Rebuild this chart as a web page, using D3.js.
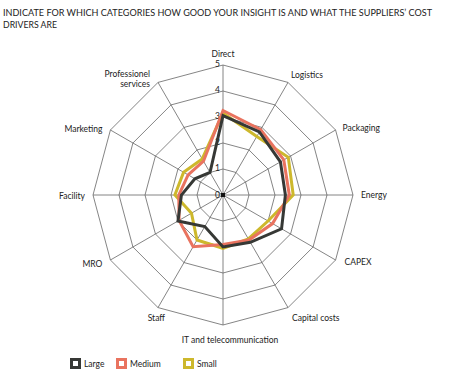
<!DOCTYPE html>
<html lang="en">
<head>
<meta charset="UTF-8">
<title>Cost drivers radar</title>
<style>
  body { margin: 0; background: #fff; }
  #my_dataviz text { font-family: Lato, "Open Sans", sans-serif; fill: #222; }
</style>
</head>
<body>
<div id="my_dataviz"></div>
<script src="https://d3js.org/d3.v7.min.js"></script>
<script>
// data (scale 0-5)
var categories = ["Direct", "Logistics", "Packaging", "Energy", "CAPEX", "Capital costs",
                  "IT and telecommunication", "Staff", "MRO", "Facility", "Marketing", "Professionel services"];
var large  = [3.05, 2.8, 2.55, 2.4, 2.6, 2.1, 2.0, 1.4, 2.0, 1.6, 1.25, 1.0];
var medium = [3.25, 2.9, 2.7, 2.55, 2.2, 2.0, 1.9, 2.3, 1.95, 1.7, 1.55, 1.5];
var small  = [3.15, 2.6, 2.9, 2.7, 2.0, 1.95, 2.05, 2.0, 1.4, 1.85, 1.75, 1.6];
var ticks = [0, 1, 2, 3, 4, 5];
var seriesNames = ["Large", "Medium", "Small"];
var seriesColors = ["#363835", "#e9735f", "#cdb82c"];

// dimensions
var width = 450, height = 383,
    cx = 223, cy = 195, radius = 130;

var svg = d3.select("#my_dataviz")
  .append("svg")
    .attr("width", width)
    .attr("height", height);

// title (fitted to the width of the original's narrow font)
svg.append("text")
  .attr("x", 3).attr("y", 16)
  .attr("textLength", 429)
  .attr("lengthAdjust", "spacingAndGlyphs")
  .style("font-size", "9.2px")
  .text("INDICATE FOR WHICH CATEGORIES HOW GOOD YOUR INSIGHT IS AND WHAT THE SUPPLIERS\u2019 COST");
svg.append("text")
  .attr("x", 3).attr("y", 28)
  .attr("textLength", 54)
  .attr("lengthAdjust", "spacingAndGlyphs")
  .style("font-size", "9.2px")
  .text("DRIVERS ARE");

var r = d3.scaleLinear().domain([0, 5]).range([0, radius]);
var angle = d3.scaleLinear().domain([0, categories.length]).range([0, 2 * Math.PI]);

var g = svg.append("g")
  .attr("transform", "translate(" + cx + "," + cy + ")");

// rings
ticks.slice(1).forEach(function(t) {
  g.append("path")
    .datum(categories)
    .attr("fill", "none")
    .attr("stroke", "#666")
    .attr("stroke-width", 0.8)
    .attr("d", d3.lineRadial()
      .angle(function(d, i) { return angle(i); })
      .radius(r(t))
      .curve(d3.curveLinearClosed));
});

// spokes
g.selectAll(".spoke")
  .data(categories)
  .enter().append("line")
    .attr("x1", 0).attr("y1", 0)
    .attr("x2", function(d, i) { return r(5) * Math.sin(angle(i)); })
    .attr("y2", function(d, i) { return -r(5) * Math.cos(angle(i)); })
    .attr("stroke", "#666")
    .attr("stroke-width", 0.8);

// tick labels on the top spoke
g.selectAll(".tick")
  .data(ticks)
  .enter().append("text")
    .attr("x", -3)
    .attr("y", function(d) { return -r(d) + (d === 0 ? 3 : 2); })
    .attr("text-anchor", "end")
    .style("font-size", "8.5px")
    .text(function(d) { return d; });

// series
var series = [small, medium, large];
var seriesCol = [seriesColors[2], seriesColors[1], seriesColors[0]];
series.forEach(function(s, k) {
  g.append("path")
    .datum(s)
    .attr("fill", "none")
    .attr("stroke", seriesCol[k])
    .attr("stroke-width", 3)
    .attr("stroke-linejoin", "miter")
    .attr("d", d3.lineRadial()
      .angle(function(d, i) { return angle(i); })
      .radius(function(d) { return r(d); })
      .curve(d3.curveLinearClosed));
});

// centre marker
g.append("rect")
  .attr("x", -2).attr("y", -2)
  .attr("width", 4).attr("height", 4)
  .attr("fill", "#111");

// category labels: offset from the spoke end and anchor
var labelOffsets = [[0, -8, "middle"], [3, -4, "start"], [7, 1, "start"], [8, 3, "start"],
                    [9, 5, "start"], [4, 13, "start"], [7, 18, "middle"], [7, 13, "end"],
                    [-8, 7, "end"], [-8, 4, "end"], [-8, 2, "end"], [-8, -5, "end"]];

categories.forEach(function(c, i) {
  var ex = r(5) * Math.sin(angle(i)),
      ey = -r(5) * Math.cos(angle(i)),
      o = labelOffsets[i];
  var t = g.append("text")
    .attr("x", ex + o[0])
    .attr("y", ey + o[1])
    .attr("text-anchor", o[2])
    .style("font-size", "8.5px");
  if (c === "Professionel services") {
    t.append("tspan").attr("x", ex + o[0]).attr("dy", 0).text("Professionel");
    t.append("tspan").attr("x", ex + o[0]).attr("dy", 10).text("services");
  } else {
    t.text(c);
  }
});

// legend
var legendX = [70, 116, 183];
var legend = svg.selectAll(".legend")
  .data(seriesNames)
  .enter().append("g")
    .attr("transform", function(d, i) { return "translate(" + legendX[i] + ",358)"; });

legend.append("rect")
  .attr("x", 1.5).attr("y", 1.5)
  .attr("width", 8).attr("height", 8)
  .attr("fill", "#fff")
  .attr("stroke", function(d, i) { return seriesColors[i]; })
  .attr("stroke-width", 3);

legend.append("text")
  .attr("x", 14).attr("y", 9)
  .style("font-size", "8.5px")
  .text(function(d) { return d; });
</script>
</body>
</html>
